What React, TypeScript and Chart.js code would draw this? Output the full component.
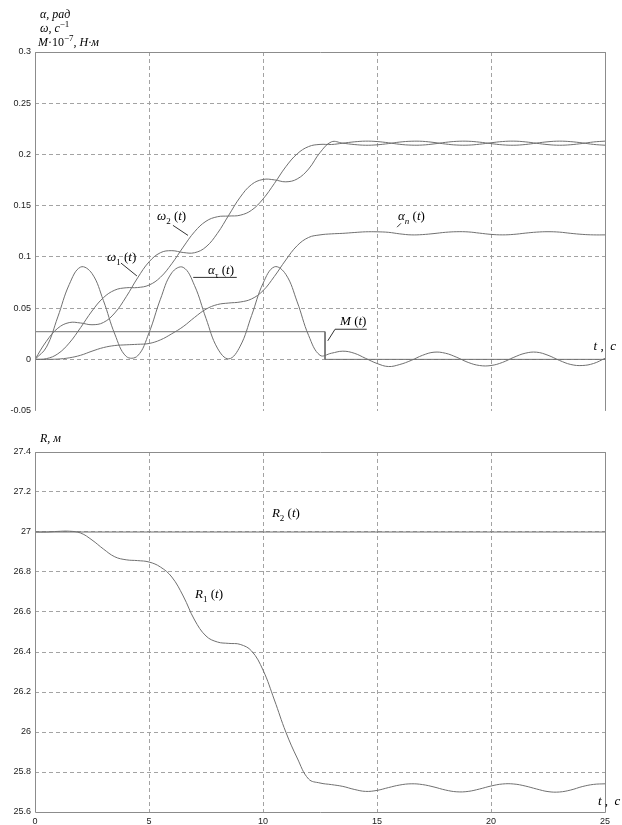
import React, { useEffect, useRef } from 'react';
import { Chart, registerables } from 'chart.js';
Chart.register(...registerables);

// ---------- data ----------
const TIME = [0, 0.5, 1, 1.5, 2, 2.5, 3, 3.5, 4, 4.5, 5, 5.5, 6, 6.5, 7, 7.5, 8, 8.5, 9, 9.5, 10, 10.5, 11, 11.5, 12, 12.5,
  13, 13.5, 14, 14.5, 15, 15.5, 16, 16.5, 17, 17.5, 18, 18.5, 19, 19.5, 20, 20.5, 21, 21.5, 22, 22.5, 23, 23.5, 24, 24.5, 25];

const ALPHA_TAU = [0, 0.0119, 0.0414, 0.073, 0.0901, 0.0838, 0.0574, 0.0247, 0.0029, 0.0034, 0.0259, 0.0587, 0.0845, 0.0898,
  0.0719, 0.04, 0.011, 0.0005, 0.0129, 0.0428, 0.0741, 0.0903, 0.083, 0.0561, 0.0234, 0.004,
  0.006, 0.008, 0.006, 0.001, -0.004, -0.007, -0.005, -0.001, 0.004, 0.007, 0.006, 0.002, -0.003, -0.006, -0.006, -0.003,
  0.002, 0.006, 0.007, 0.004, -0.001, -0.005, -0.006, -0.004, 0.001];

const OMEGA_1 = [0, 0.0177, 0.0304, 0.0359, 0.0355, 0.0338, 0.036, 0.0453, 0.0611, 0.0795, 0.0951, 0.1041, 0.1061, 0.1043,
  0.1041, 0.1098, 0.123, 0.1408, 0.1583, 0.1707, 0.1756, 0.1752, 0.1733, 0.1761, 0.1858, 0.2018,
  0.2123, 0.211, 0.2097, 0.209, 0.2094, 0.2106, 0.2121, 0.2129, 0.2128, 0.2117, 0.2102, 0.2092, 0.2091, 0.21, 0.2114, 0.2126,
  0.213, 0.2123, 0.2109, 0.2096, 0.209, 0.2095, 0.2107, 0.2122, 0.213];

const OMEGA_2 = [0, 0.0007, 0.0054, 0.0159, 0.031, 0.0472, 0.0602, 0.0676, 0.0699, 0.0701, 0.0725, 0.0801, 0.0934, 0.1096,
  0.1246, 0.1348, 0.1392, 0.1399, 0.1407, 0.1456, 0.1565, 0.1717, 0.188, 0.2006, 0.2077, 0.2098,
  0.2097, 0.211, 0.2123, 0.213, 0.2126, 0.2114, 0.2099, 0.2091, 0.2092, 0.2103, 0.2118, 0.2128, 0.2129, 0.212, 0.2106, 0.2094,
  0.209, 0.2097, 0.2111, 0.2124, 0.213, 0.2125, 0.2113, 0.2098, 0.209];

const ALPHA_N = [0, 0, 0.0003, 0.0015, 0.004, 0.008, 0.0115, 0.0135, 0.0142, 0.0147, 0.0155, 0.019, 0.025, 0.032, 0.041,
  0.049, 0.0535, 0.055, 0.056, 0.059, 0.067, 0.081, 0.097, 0.111, 0.119, 0.1215,
  0.1225, 0.123, 0.1238, 0.1245, 0.1245, 0.124, 0.1225, 0.1215, 0.1218, 0.1228, 0.124, 0.1246, 0.1244, 0.1232, 0.122, 0.1215,
  0.122, 0.1232, 0.1242, 0.1246, 0.1242, 0.123, 0.122, 0.1215, 0.1215];

const M_TIME = [0, 12.72, 12.72, 25];
const M_VALUES = [0.027, 0.027, 0, 0];

const R1 = [27.0, 27.0, 27.003, 27.004, 26.995, 26.96, 26.915, 26.876, 26.861, 26.857, 26.85, 26.825, 26.775, 26.68, 26.56,
  26.48, 26.45, 26.443, 26.438, 26.405, 26.31, 26.16, 26.0, 25.87, 25.765, 25.745,
  25.737, 25.728, 25.713, 25.703, 25.708, 25.722, 25.735, 25.741, 25.737, 25.725, 25.71, 25.701, 25.703, 25.715, 25.73, 25.74,
  25.74, 25.73, 25.715, 25.702, 25.7, 25.71, 25.727, 25.738, 25.741];

const R2_TIME = [0, 25];
const R2 = [27, 27];

const X_MIN = 0, X_MAX = 25, X_STEP = 5;
const TOP_Y_MIN = -0.05, TOP_Y_MAX = 0.3, TOP_Y_STEP = 0.05;
const BOT_Y_MIN = 25.6, BOT_Y_MAX = 27.4, BOT_Y_STEP = 0.2;

// ---------- annotations (data coordinates) ----------
type Seg = [string, string];
const TOP_LABELS: { t: number; v: number; segs: Seg[] }[] = [
  { t: 5.35, v: 0.1357, segs: [['ω', 'i'], ['2', 'sub'], [' (', 'n'], ['t', 'i'], [')', 'n']] },
  { t: 3.16, v: 0.096, segs: [['ω', 'i'], ['1', 'sub'], [' (', 'n'], ['t', 'i'], [')', 'n']] },
  { t: 7.59, v: 0.0833, segs: [['α', 'i'], ['τ', 'sub'], [' (', 'n'], ['t', 'i'], [')', 'n']] },
  { t: 15.92, v: 0.1357, segs: [['α', 'i'], ['n', 'subi'], [' (', 'n'], ['t', 'i'], [')', 'n']] },
  { t: 13.38, v: 0.0339, segs: [['M', 'i'], [' (', 'n'], ['t', 'i'], [')', 'n']] },
  { t: 24.5, v: 0.0087, segs: [['t', 'i'], [' ,  ', 'n'], ['с', 'i']] },
];
const TOP_LEADERS: number[][][] = [
  [[6.05, 0.1308], [6.71, 0.121]],
  [[3.77, 0.094], [4.47, 0.0814]],
  [[6.94, 0.08], [8.85, 0.08]],
  [[15.88, 0.129], [16.05, 0.1328]],
  [[12.84, 0.0181], [13.16, 0.0294], [14.55, 0.0294]],
];
const TOP_TITLES: { dx: number; dy: number; segs: Seg[] }[] = [
  { dx: 5, dy: -34, segs: [['α, рад', 'i']] },
  { dx: 5, dy: -20, segs: [['ω, с', 'i'], ['−1', 'sup']] },
  { dx: 3, dy: -6, segs: [['M', 'i'], ['·10', 'n'], ['−7', 'sup'], [', Н·м', 'i']] },
];

const BOT_LABELS: { t: number; v: number; segs: Seg[] }[] = [
  { t: 10.39, v: 27.075, segs: [['R', 'i'], ['2', 'sub'], [' (', 'n'], ['t', 'i'], [')', 'n']] },
  { t: 7.02, v: 26.67, segs: [['R', 'i'], ['1', 'sub'], [' (', 'n'], ['t', 'i'], [')', 'n']] },
  { t: 24.69, v: 25.635, segs: [['t', 'i'], [' ,  ', 'n'], ['с', 'i']] },
];
const BOT_TITLES: { dx: number; dy: number; segs: Seg[] }[] = [
  { dx: 5, dy: -10, segs: [['R, м', 'i']] },
];

// ---------- styles ----------
const SERIF = '"Liberation Serif", "Times New Roman", serif';
const SANS = '"Liberation Sans", Arial, sans-serif';
const CURVE = '#707070';
const GRID = '#a3a3a3';
const FRAME = '#8c8c8c';

function pts(xs: number[], ys: number[]) {
  return xs.map((x, i) => ({ x, y: ys[i] }));
}

function drawRich(ctx: CanvasRenderingContext2D, x: number, y: number, segs: Seg[], size: number) {
  let cx = x;
  for (const [txt, st] of segs) {
    const italic = st === 'i' || st === 'subi';
    const small = st === 'sub' || st === 'subi' || st === 'sup';
    const fs = small ? Math.round(size * 0.72) : size;
    ctx.font = `${italic ? 'italic ' : ''}${fs}px ${SERIF}`;
    const dy = st === 'sup' ? -size * 0.42 : small ? size * 0.28 : 0;
    ctx.fillText(txt, cx, y + dy);
    cx += ctx.measureText(txt).width;
  }
}

const align = (p: number) => Math.round(p - 0.5) + 0.5;

function decorPlugin(labels: any[], leaders: number[][][], titles: any[], closeBottom: boolean) {
  return {
    id: 'decor',
    afterDraw(chart: any) {
      const { ctx, chartArea: a, scales } = chart;
      const xs = scales.x, ys = scales.y;
      ctx.save();
      ctx.setLineDash([]);
      ctx.lineWidth = 1;
      ctx.strokeStyle = FRAME;
      const L = align(a.left), R = align(a.right);
      const T = align(a.top), B = align(a.bottom);
      ctx.beginPath();
      ctx.moveTo(L, B);
      ctx.lineTo(L, T);
      ctx.lineTo(R, T);
      ctx.lineTo(R, B);
      if (closeBottom) ctx.lineTo(L, B);
      ctx.stroke();
      ctx.strokeStyle = '#333';
      for (const ld of leaders) {
        ctx.beginPath();
        ld.forEach(([t, v], i) => {
          const px = xs.getPixelForValue(t), py = ys.getPixelForValue(v);
          if (i) ctx.lineTo(px, py); else ctx.moveTo(px, py);
        });
        ctx.stroke();
      }
      ctx.fillStyle = '#000';
      ctx.textAlign = 'left';
      ctx.textBaseline = 'alphabetic';
      for (const lb of labels) drawRich(ctx, xs.getPixelForValue(lb.t), ys.getPixelForValue(lb.v), lb.segs, 13);
      for (const tt of titles) drawRich(ctx, a.left + tt.dx, a.top + tt.dy, tt.segs, 12);
      ctx.restore();
    },
  };
}

function lineDs(data: { x: number; y: number }[], tension = 0.4) {
  return { data, borderColor: CURVE, borderWidth: 1, pointRadius: 0, tension, fill: false };
}

function baseOptions(yMin: number, yMax: number, yStep: number, decimals: number, padTop: number, xHeight: number, showX: boolean) {
  const f = Math.pow(10, decimals);
  return {
    animation: false,
    responsive: false,
    devicePixelRatio: 1,
    layout: { padding: { top: padTop, right: 17, left: 0, bottom: 0 } },
    plugins: { legend: { display: false }, tooltip: { enabled: false } },
    scales: {
      x: {
        type: 'linear',
        min: X_MIN,
        max: X_MAX,
        ticks: { display: showX, stepSize: X_STEP, padding: 4, maxRotation: 0, font: { family: SANS, size: 9 }, color: '#222' },
        grid: { color: GRID, drawTicks: false, lineWidth: 1 },
        border: { display: false, dash: [4, 3] },
        afterFit: (s: any) => { s.height = xHeight; },
      },
      y: {
        type: 'linear',
        min: yMin,
        max: yMax,
        ticks: {
          stepSize: yStep, padding: 4, font: { family: SANS, size: 9 }, color: '#222',
          callback: (v: number) => String(Math.round(v * f) / f),
        },
        grid: { color: (c: any) => (c.index === 0 ? 'rgba(0,0,0,0)' : GRID), drawTicks: false, lineWidth: 1 },
        border: { display: false, dash: [4, 3] },
        afterFit: (s: any) => { s.width = 35; },
      },
    },
  };
}

export default function App() {
  const topRef = useRef<HTMLCanvasElement>(null);
  const botRef = useRef<HTMLCanvasElement>(null);

  useEffect(() => {
    const top = new Chart(topRef.current as HTMLCanvasElement, {
      type: 'line',
      data: {
        datasets: [
          lineDs(pts(TIME, ALPHA_TAU)),
          lineDs(pts(TIME, OMEGA_1)),
          lineDs(pts(TIME, OMEGA_2)),
          lineDs(pts(TIME, ALPHA_N)),
          lineDs(pts(M_TIME, M_VALUES), 0),
        ] as any,
      },
      options: baseOptions(TOP_Y_MIN, TOP_Y_MAX, TOP_Y_STEP, 2, 52, 7, false) as any,
      plugins: [decorPlugin(TOP_LABELS, TOP_LEADERS, TOP_TITLES, false)],
    });
    const bot = new Chart(botRef.current as HTMLCanvasElement, {
      type: 'line',
      data: {
        datasets: [
          lineDs(pts(R2_TIME, R2), 0),
          lineDs(pts(TIME, R1)),
        ] as any,
      },
      options: baseOptions(BOT_Y_MIN, BOT_Y_MAX, BOT_Y_STEP, 1, 32, 13, true) as any,
      plugins: [decorPlugin(BOT_LABELS, [], BOT_TITLES, true)],
    });
    return () => {
      top.destroy();
      bot.destroy();
    };
  }, []);

  return (
    <div style={{ position: 'fixed', left: 0, top: 0, width: 622, height: 825, background: '#fff' }}>
      <canvas ref={topRef} width={622} height={420} style={{ position: 'absolute', left: 0, top: 0 }} />
      <canvas ref={botRef} width={622} height={405} style={{ position: 'absolute', left: 0, top: 420 }} />
    </div>
  );
}
